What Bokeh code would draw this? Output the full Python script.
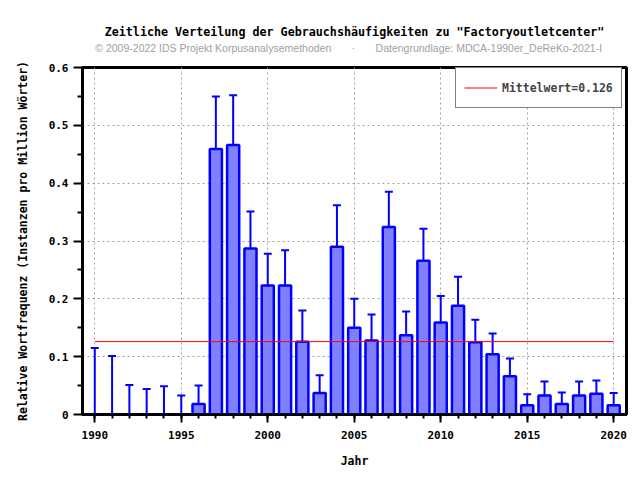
from bokeh.plotting import figure
from bokeh.models import (Whisker, TeeHead, ColumnDataSource, Legend, LegendItem,
                          FixedTicker, LinearAxis, Range1d)
from bokeh.embed import file_html
from bokeh.resources import INLINE

years = list(range(1990, 2021))
freq = [0, 0, 0, 0, 0, 0, 0.018, 0.459, 0.466, 0.287, 0.223, 0.223, 0.126, 0.037,
        0.290, 0.150, 0.128, 0.324, 0.137, 0.266, 0.159, 0.188, 0.125, 0.104, 0.066,
        0.016, 0.033, 0.018, 0.033, 0.036, 0.016]
err_low = [0, 0, 0, 0, 0, 0, 0.005, 0.385, 0.395, 0.234, 0.176, 0.175, 0.090, 0.0195,
           0.231, 0.113, 0.094, 0.271, 0.105, 0.217, 0.121, 0.149, 0.095, 0.076, 0.045,
           0.007, 0.021, 0.009, 0.020, 0.021, 0.006]
err_high = [0.115, 0.101, 0.051, 0.044, 0.049, 0.033, 0.050, 0.550, 0.552, 0.351, 0.278,
            0.284, 0.180, 0.068, 0.362, 0.200, 0.173, 0.385, 0.178, 0.321, 0.205, 0.238,
            0.164, 0.140, 0.097, 0.035, 0.057, 0.038, 0.057, 0.059, 0.037]
mean_value = 0.126

x_major_ticks = [1990, 1995, 2000, 2005, 2010, 2015, 2020]
y_major_ticks = [0, 0.1, 0.2, 0.3, 0.4, 0.5, 0.6]
y_tick_labels = ["0", "0.1", "0.2", "0.3", "0.4", "0.5", "0.6"]

title_text = 'Zeitliche Verteilung der Gebrauchsh\u00e4ufigkeiten zu "Factoryoutletcenter"'
subtitle_text = ("\u00a9 2009-2022 IDS Projekt Korpusanalysemethoden" + "\u00a0" * 7 + "\u00b7"
                 + "\u00a0" * 7 + "Datengrundlage: MDCA-1990er_DeReKo-2021-I" + "\u00a0" * 4)
x_label = "Jahr"
y_label = "Relative Wortfrequenz (Instanzen pro Million W\u00f6rter)"

MONO = "DejaVu Sans Mono"
BLUE = "#0000ff"

p = figure(width=640, height=480, output_backend="svg", toolbar_location=None,
           x_range=Range1d(1989.29, 2020.74), y_range=Range1d(0, 0.6),
           title=title_text,
           min_border_left=82, min_border_right=14, min_border_top=67, min_border_bottom=66)
p.background_fill_color = "white"
p.border_fill_color = "white"
p.outline_line_color = "black"
p.outline_line_width = 3

# main title (outermost)
p.title.align = "center"
p.title.text_font = MONO
p.title.text_font_size = "11.7px"
p.title.text_font_style = "bold"
p.title.text_color = "black"
p.title.standoff = 0

# subtitle as the label of an empty axis above the frame
sub_axis = LinearAxis(ticker=FixedTicker(ticks=[]), axis_label=subtitle_text,
                      axis_line_color=None, major_tick_line_color=None,
                      minor_tick_line_color=None, major_tick_out=0, minor_tick_out=0,
                      major_label_standoff=0, major_label_text_font_size="0px",
                      axis_label_standoff=14, axis_label_text_font="Liberation Sans",
                      axis_label_text_font_size="10.5px", axis_label_text_font_style="normal",
                      axis_label_text_color="#a0a0a0")
p.add_layout(sub_axis, "above")

# data sources
src = ColumnDataSource(dict(x=years, top=freq, low=err_low, high=err_high))
bar_idx = [i for i, v in enumerate(freq) if v > 0]
bar_src = ColumnDataSource(dict(x=[years[i] for i in bar_idx], top=[freq[i] for i in bar_idx]))

p.vbar(x="x", top="top", width=0.7, source=bar_src, fill_color="#8080ff",
       line_color=BLUE, line_width=2.5)

whisk = Whisker(base="x", lower="low", upper="high", source=src,
                line_color=BLUE, line_width=2,
                upper_head=TeeHead(size=8, line_color=BLUE, line_width=2),
                lower_head=TeeHead(size=8, line_color=BLUE, line_width=2))
p.add_layout(whisk)

mean_line = p.line(x=[years[0], years[-1]], y=[mean_value, mean_value],
                   line_color="#ff0000", line_width=1)

legend = Legend(items=[LegendItem(label=f"Mittelwert={mean_value}", renderers=[mean_line])],
                location=(373, 306), margin=0, padding=8, glyph_width=33, glyph_height=23,
                label_standoff=5, label_text_font=MONO, label_text_font_style="bold",
                label_text_font_size="11.5px", border_line_color="black", border_line_width=1,
                background_fill_color="white", background_fill_alpha=1.0)
p.add_layout(legend)

# axes
xax = p.below[0]
yax = p.left[0]
xax.ticker = FixedTicker(ticks=x_major_ticks, minor_ticks=years)
yax.ticker = FixedTicker(ticks=y_major_ticks,
                         minor_ticks=[t + 0.05 for t in y_major_ticks[:-1]])
yax.major_label_overrides = {t: lbl for t, lbl in zip(y_major_ticks, y_tick_labels)}

for ax in (xax, yax):
    ax.axis_line_color = "black"
    ax.axis_line_width = 2.5
    ax.major_tick_line_color = "black"
    ax.major_tick_line_width = 2
    ax.minor_tick_line_color = "black"
    ax.minor_tick_line_width = 2
    ax.major_tick_in = 0
    ax.minor_tick_in = 0
    ax.major_label_text_font = MONO
    ax.major_label_text_font_style = "bold"
    ax.major_label_text_font_size = "11px"
    ax.major_label_text_color = "black"
    ax.axis_label_text_font = MONO
    ax.axis_label_text_font_style = "bold"
    ax.axis_label_text_font_size = "11.5px"
    ax.axis_label_text_color = "black"

xax.axis_label = x_label
yax.axis_label = y_label
xax.major_tick_out = 8
xax.minor_tick_out = 4
yax.major_tick_out = 9
yax.minor_tick_out = 5
xax.major_label_standoff = 8
yax.major_label_standoff = 5
xax.axis_label_standoff = 12
yax.axis_label_standoff = 16

p.xgrid.ticker = FixedTicker(ticks=x_major_ticks)
p.ygrid.ticker = FixedTicker(ticks=y_major_ticks)
p.xgrid.grid_line_color = "#a0a0a0"
p.xgrid.grid_line_dash = "2 3"
p.xgrid.grid_line_width = 1
p.ygrid.grid_line_color = "#a0a0a0"
p.ygrid.grid_line_dash = "2 3"
p.ygrid.grid_line_width = 1

open("out.html", "w").write(file_html(p, INLINE))
